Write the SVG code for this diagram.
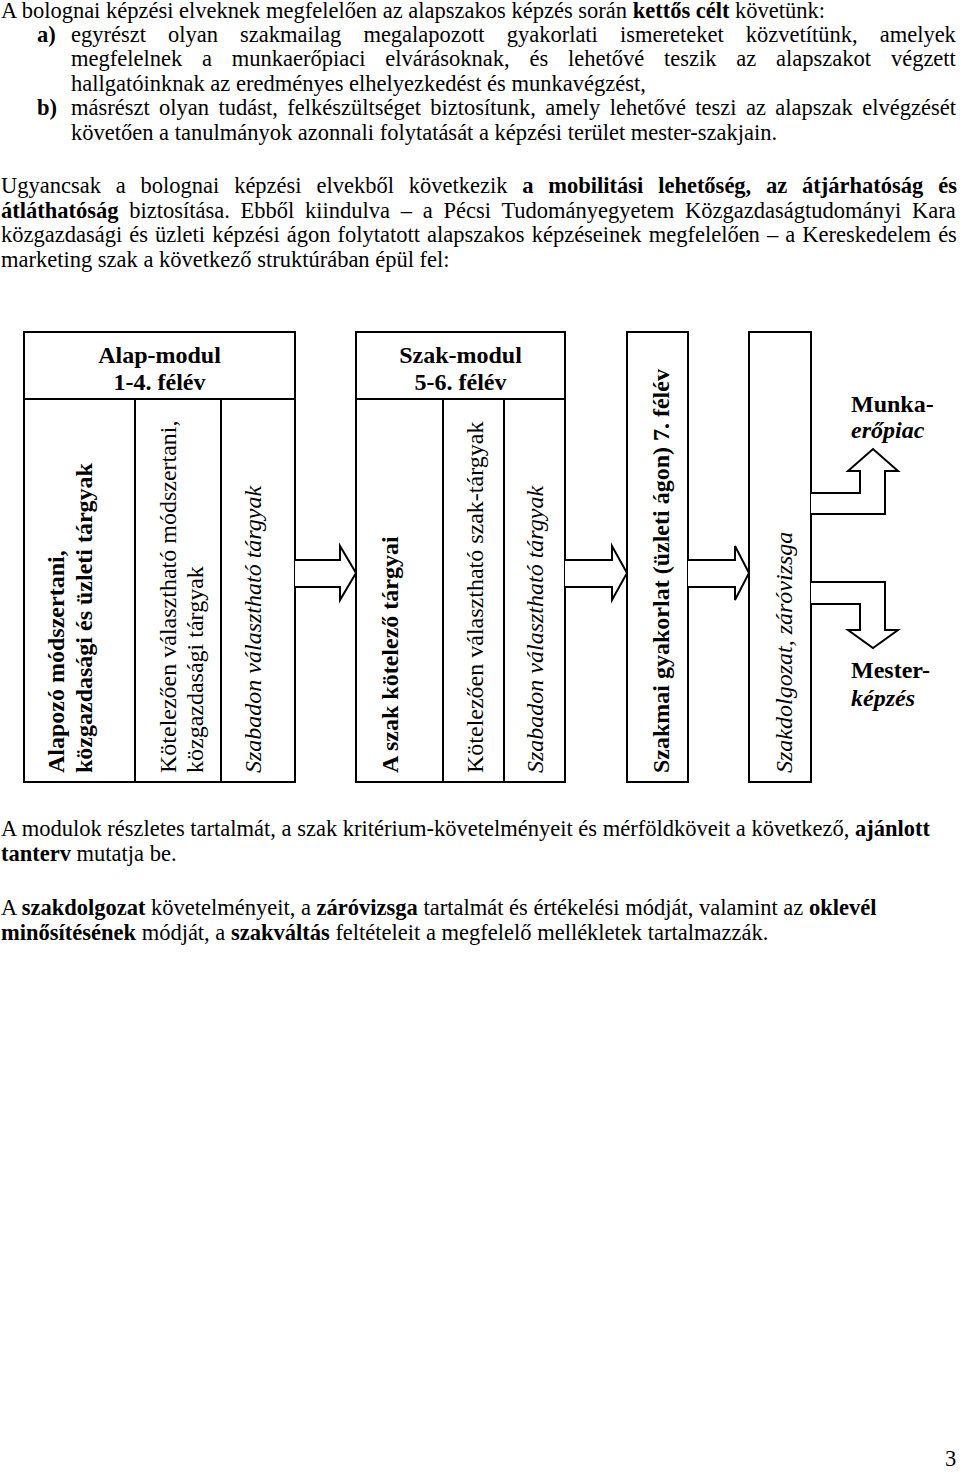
<svg xmlns="http://www.w3.org/2000/svg" width="960" height="1475" viewBox="0 0 960 1475">
<style>
.t{font-family:"Liberation Serif","Times New Roman",serif;font-size:22.5px;fill:#000}
.d{font-family:"Liberation Serif","Times New Roman",serif;font-size:24px;fill:#000}
.b{font-weight:bold}
.i{font-style:italic}
.box{fill:#fff;stroke:#000;stroke-width:2}
.ln{stroke:#000;stroke-width:2;fill:none}
.arr{fill:#fff;stroke:#000;stroke-width:2;stroke-linejoin:miter}
</style>
<rect x="0" y="0" width="960" height="1475" fill="#fff"/>

<g id="text-top">
<text class="t" x="1" y="18">A bolognai képzési elveknek megfelelően az alapszakos képzés során <tspan class="b">kettős célt</tspan> követünk:</text>
<text class="t b" x="37" y="41.8">a)</text>
<text class="t" x="71" y="41.8" style="word-spacing:16.45px">egyrészt olyan szakmailag megalapozott gyakorlati ismereteket közvetítünk, amelyek</text>
<text class="t" x="71" y="66.3" style="word-spacing:14.19px">megfelelnek a munkaerőpiaci elvárásoknak, és lehetővé teszik az alapszakot végzett</text>
<text class="t" x="71" y="90.8">hallgatóinknak az eredményes elhelyezkedést és munkavégzést,</text>
<text class="t b" x="37" y="115.4">b)</text>
<text class="t" x="71" y="115.4" style="word-spacing:3.77px">másrészt olyan tudást, felkészültséget biztosítunk, amely lehetővé teszi az alapszak elvégzését</text>
<text class="t" x="71" y="140">követően a tanulmányok azonnali folytatását a képzési terület mester-szakjain.</text>

<text class="t" x="1" y="193" style="word-spacing:9.19px">Ugyancsak a bolognai képzési elvekből következik <tspan class="b">a mobilitási lehetőség, az átjárhatóság és</tspan></text>
<text class="t" x="1" y="217.6" style="word-spacing:5.12px"><tspan class="b">átláthatóság</tspan> biztosítása. Ebből kiindulva – a Pécsi Tudományegyetem Közgazdaságtudományi Kara</text>
<text class="t" x="1" y="242.2" style="word-spacing:1.46px">közgazdasági és üzleti képzési ágon folytatott alapszakos képzéseinek megfelelően – a Kereskedelem és</text>
<text class="t" x="1" y="266.8">marketing szak a következő struktúrában épül fel:</text>
</g>

<g id="alap-modul">
<rect class="box" x="24" y="332" width="271" height="450"/>
<line class="ln" x1="24" y1="399" x2="295" y2="399"/>
<line class="ln" x1="135" y1="399" x2="135" y2="782"/>
<line class="ln" x1="221" y1="399" x2="221" y2="782"/>
<text class="d b" x="159.5" y="363" text-anchor="middle">Alap-modul</text>
<text class="d b" x="159.5" y="389.5" text-anchor="middle">1-4. félév</text>
<text class="d b" transform="translate(64,773) rotate(-90)">Alapozó módszertani,</text>
<text class="d b" transform="translate(92,773) rotate(-90)">közgazdasági és üzleti tárgyak</text>
<text class="d" transform="translate(176,773) rotate(-90)">Kötelezően választható módszertani,</text>
<text class="d" transform="translate(203,773) rotate(-90)">közgazdasági tárgyak</text>
<text class="d i" transform="translate(261,773) rotate(-90)">Szabadon választható tárgyak</text>
</g>

<g id="szak-modul">
<rect class="box" x="356" y="332" width="209" height="450"/>
<line class="ln" x1="356" y1="399" x2="565" y2="399"/>
<line class="ln" x1="443" y1="399" x2="443" y2="782"/>
<line class="ln" x1="504" y1="399" x2="504" y2="782"/>
<text class="d b" x="460.5" y="363" text-anchor="middle">Szak-modul</text>
<text class="d b" x="460.5" y="389.5" text-anchor="middle">5-6. félév</text>
<text class="d b" transform="translate(398,773) rotate(-90)">A szak kötelező tárgyai</text>
<text class="d" transform="translate(483,773) rotate(-90)">Kötelezően választható szak-tárgyak</text>
<text class="d i" transform="translate(543,773) rotate(-90)">Szabadon választható tárgyak</text>
</g>

<g id="szakmai-gyakorlat">
<rect class="box" x="627" y="332" width="61" height="450"/>
<text class="d b" transform="translate(669,773) rotate(-90)">Szakmai gyakorlat (üzleti ágon) 7. félév</text>
</g>

<g id="szakdolgozat">
<rect class="box" x="749" y="332" width="62" height="450"/>
<text class="d i" transform="translate(792,773) rotate(-90)">Szakdolgozat, záróvizsga</text>
</g>

<g id="munkaeropiac">
<text class="d b" x="851" y="412">Munka-</text>
<text class="d b i" x="851" y="438">erőpiac</text>
</g>

<g id="mesterkepzes">
<text class="d b" x="851" y="678">Mester-</text>
<text class="d b i" x="851" y="706">képzés</text>
</g>

<g id="connectors">
<path class="arr" d="M295,560 H340 V546 L356,573 L340,600 V587 H295"/>
<path class="arr" d="M565,560 H612 V546 L627,573 L612,600 V587 H565"/>
<path class="arr" d="M688,560 H735 V546 L749,573 L735,600 V587 H688"/>
<path class="arr" d="M811,514 H885 V471 H898 L873,449 L848,471 H860 V493 H811"/>
<path class="arr" d="M811,582 H885 V630 H898 L873,648 L848,630 H860 V604 H811"/>
</g>

<g id="text-bottom">
<text class="t" x="1" y="836">A modulok részletes tartalmát, a szak kritérium-követelményeit és mérföldköveit a következő, <tspan class="b">ajánlott</tspan></text>
<text class="t" x="1" y="861"><tspan class="b">tanterv</tspan> mutatja be.</text>
<text class="t" x="1" y="915">A <tspan class="b">szakdolgozat</tspan> követelményeit, a <tspan class="b">záróvizsga</tspan> tartalmát és értékelési módját, valamint az <tspan class="b">oklevél</tspan></text>
<text class="t" x="1" y="940"><tspan class="b">minősítésének</tspan> módját, a <tspan class="b">szakváltás</tspan> feltételeit a megfelelő mellékletek tartalmazzák.</text>
<text class="t" x="945" y="1466">3</text>
</g>
</svg>
